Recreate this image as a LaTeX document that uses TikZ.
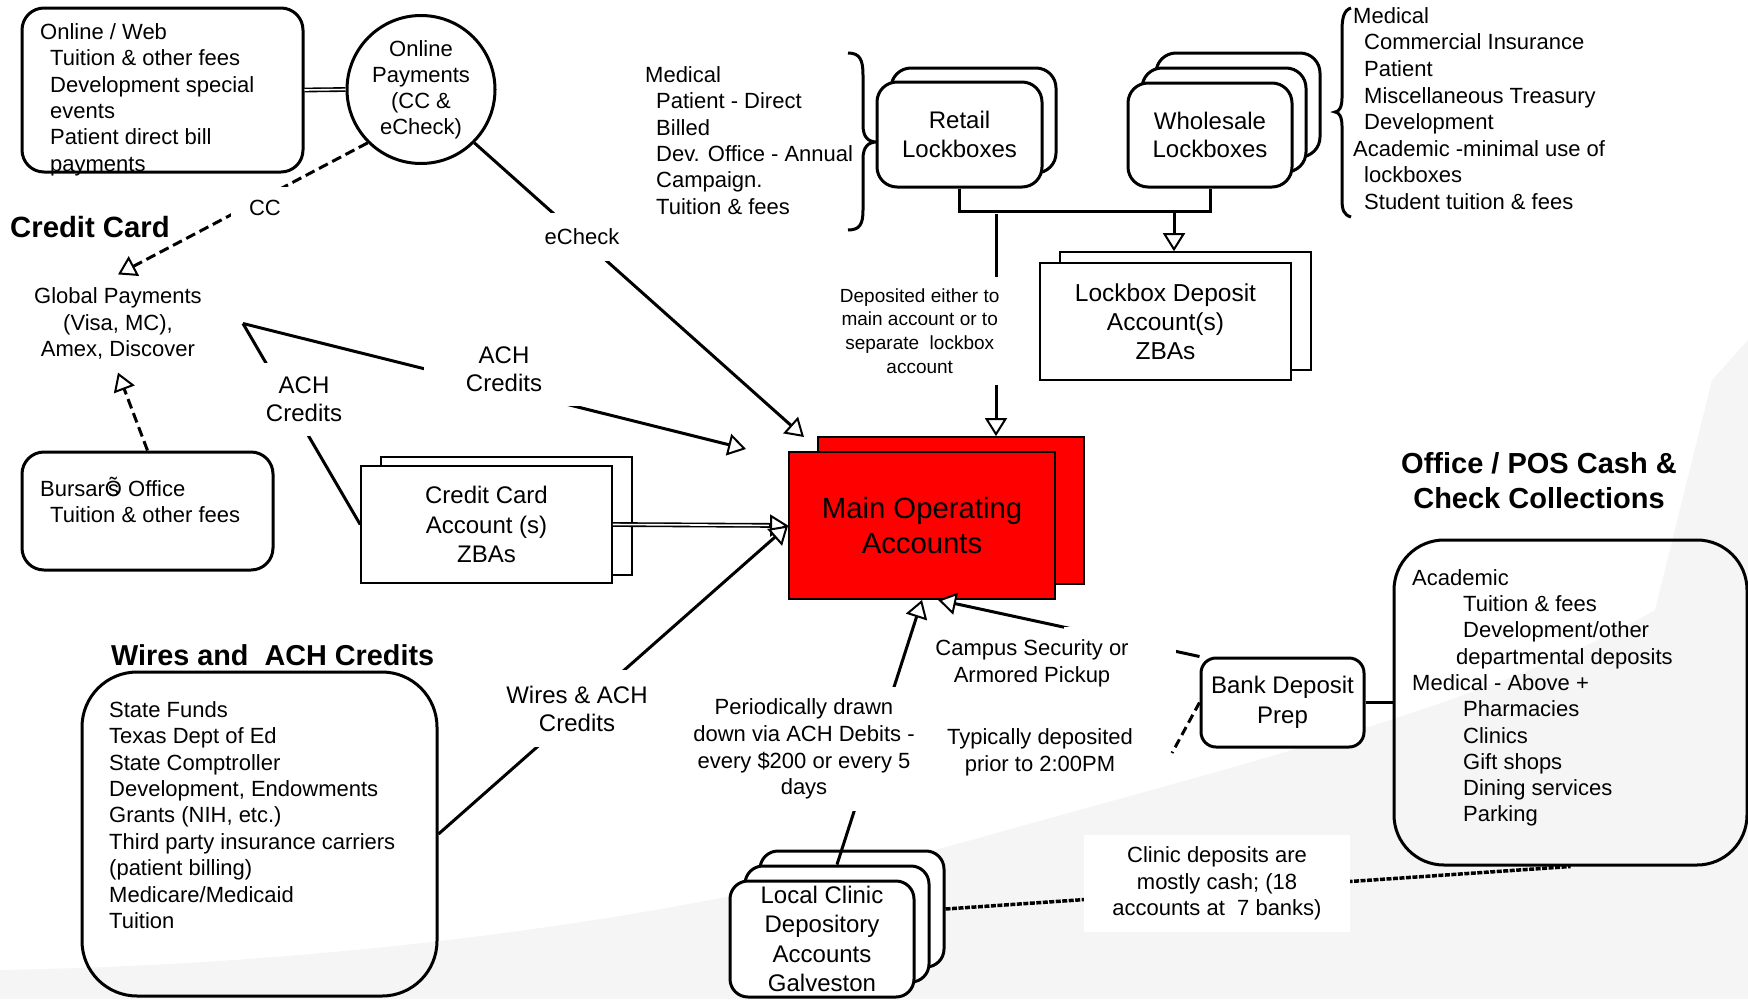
\documentclass[tikz,border=0pt]{standalone}
\usepackage{fontspec}
\setmainfont{Liberation Sans}
\usetikzlibrary{arrows.meta,calc}
\definecolor{acctred}{HTML}{FF0000}
\definecolor{swoosh}{HTML}{F5F5F5}
\newcommand\fList{\fontsize{22}{26.4}\selectfont}
\newcommand\fBox{\fontsize{24}{29.5}\selectfont}
\newcommand\fNote{\fontsize{19}{23.6}\selectfont}
\newcommand\fMain{\fontsize{29.3}{35}\selectfont}
\newcommand\topln{\rule{0pt}{0.9em}}
\newcommand\ind[1]{\hspace*{#1pt}}

\begin{document}
\begin{tikzpicture}[x=1pt,y=-1pt,
  rbox/.style={draw, line width=3pt, rounded corners=#1, inner sep=0pt, align=center},
  rbox/.default=20pt,
  sbox/.style={draw, line width=1.6pt, fill=white, inner sep=0pt, font=\fBox, align=center},
  flow/.style={line width=3pt},
  head/.style={-{Triangle[fill=white, length=18pt, width=22pt, line width=2pt]}},
  dashflow/.style={flow, dash pattern=on 10pt off 5pt},
  dotflow/.style={line width=3.5pt, dash pattern=on 5pt off 1.5pt},
  twin/.style={line width=1.6pt, double, double distance=1.6pt},
  lbl/.style={fill=white, align=center, inner xsep=3pt, inner ysep=14pt},
  list/.style={anchor=north west, inner sep=0pt, align=left, font=\fList},
]
\useasboundingbox (0,0) rectangle (1748,999);

% soft background swoosh
\fill[swoosh] (0,999) -- (0,970) .. controls (350,964) and (700,918) .. (1000,832)
  .. controls (1250,762) and (1500,700) .. (1655,610) -- (1712,380) -- (1748,340)
  -- (1748,999) -- cycle;

% ---------- boxes ----------
\node[rbox=22pt, minimum width=281pt, minimum height=164pt] (web) at (162.5,90) {};
\node[list] (webtxt) at (40,19.2) {\topln Online / Web\\\ind{10}Tuition \& other fees\\\ind{10}Development special\\\ind{10}events\\\ind{10}Patient direct bill\\\ind{10}payments};

\node[circle, draw, line width=3pt, fill=white, minimum size=148pt, inner sep=0pt,
      align=center, font=\fontsize{22}{26}\selectfont] (pay) at (421,89.5)
      {Online\\Payments\\(CC \&\\eCheck)};

\node[anchor=base west, inner sep=0pt, font=\bfseries\fontsize{29.3}{35}\selectfont] (cctitle) at (10,237) {Credit Card};

\node[align=center, font=\fontsize{22}{26.5}\selectfont, inner xsep=41pt, inner ysep=13pt] (gp) at (118,323.5)
      {Global Payments\\(Visa, MC),\\Amex, Discover};

\node[rbox=22pt, minimum width=251pt, minimum height=118pt] (bursar) at (147.5,511) {};
\node[list] (bursartxt) at (40,476.2) {\topln Bursar{\ooalign{Õ\cr\hfil s\hfil}} Office\\\ind{10}Tuition \& other fees};

% credit card accounts
\node[sbox, minimum width=251pt, minimum height=118pt] (ccback) at (506.5,516) {};
\node[sbox, minimum width=251pt, minimum height=117pt] (ccfront) at (486.5,524.5) {Credit Card\\Account (s)\\ZBAs};

% main operating accounts
\node[draw, line width=1.8pt, fill=acctred, minimum width=266pt, minimum height=147pt] (mainback) at (951,510.5) {};
\node[draw, line width=1.8pt, fill=acctred, minimum width=266pt, minimum height=147pt,
      align=center, font=\fMain] (mainfront) at (922,525.5) {Main Operating\\Accounts};

% lockboxes
\node[rbox, fill=white, minimum width=165pt, minimum height=105pt] (retailback) at (973.5,120.5) {};
\node[rbox, fill=white, minimum width=165pt, minimum height=105pt, font=\fBox] (retail) at (959.5,134.5) {Retail\\Lockboxes};

\node[rbox, fill=white, minimum width=164pt, minimum height=104pt] (wholeback) at (1238,105) {};
\node[rbox, fill=white, minimum width=164pt, minimum height=104pt] (wholemid) at (1224,120) {};
\node[rbox, fill=white, minimum width=164pt, minimum height=104pt, font=\fontsize{24}{28}\selectfont] (whole) at (1210,135) {Wholesale\\Lockboxes};

\node[sbox, minimum width=251pt, minimum height=118pt] (lbback) at (1185.5,311) {};
\node[sbox, minimum width=251pt, minimum height=117pt, font=\fontsize{24.5}{29}\selectfont] (lbfront) at (1165.5,321.5) {Lockbox Deposit\\Account(s)\\ZBAs};

% lockbox source lists and braces
\node[list] (retaillist) at (645,62.2) {\topln Medical\\\ind{11}Patient - Direct\\\ind{11}Billed\\\ind{11}Dev. Office - Annual\\\ind{11}Campaign.\\\ind{11}Tuition \& fees};
\draw[line width=3pt] (848,53) .. controls (860,53) and (863,60) .. (863,75) -- (863,125)
  .. controls (863,137) and (868,142) .. (877,142) .. controls (868,142) and (863,147) .. (863,159)
  -- (863,210) .. controls (863,224) and (860,230) .. (848,230);

\node[list, font=\fontsize{22}{26.6}\selectfont] (wholelist) at (1353,3.2) {\topln Medical\\\ind{11}Commercial Insurance\\\ind{11}Patient\\\ind{11}Miscellaneous Treasury\\\ind{11}Development\\Academic -minimal use of\\\ind{11}lockboxes\\\ind{11}Student tuition \& fees};
\draw[line width=3pt] (1351,8) .. controls (1344,10) and (1342,18) .. (1342,30) -- (1342,98)
  .. controls (1342,107) and (1339,112) .. (1335,112) .. controls (1339,112) and (1342,117) .. (1342,126)
  -- (1342,200) .. controls (1342,210) and (1344,215) .. (1351,217);

% office / POS collections
\node[anchor=north, inner sep=0pt, align=center, font=\bfseries\fontsize{29}{35.5}\selectfont] (postitle) at (1539,447)
      {\topln Office / POS Cash \&\\Check Collections};
\node[rbox=50pt, minimum width=353pt, minimum height=325pt] (office) at (1570.5,702.5) {};
\node[list, font=\fontsize{22}{26.3}\selectfont] (officelist) at (1412,565.2) {\topln Academic\\\ind{51}Tuition \& fees\\\ind{51}Development/other\\\ind{44}departmental deposits\\Medical - Above +\\\ind{51}Pharmacies\\\ind{51}Clinics\\\ind{51}Gift shops\\\ind{51}Dining services\\\ind{51}Parking};

\node[rbox=15pt, fill=white, minimum width=163pt, minimum height=89pt, font=\fontsize{24}{30}\selectfont] (bank) at (1282.5,702.5) {Bank Deposit\\Prep};

% wires and ACH credits
\node[anchor=base west, inner sep=0pt, font=\bfseries\fontsize{28.8}{35}\selectfont] (wirestitle) at (111,665) {Wires and\ \ ACH Credits};
\node[rbox=55pt, minimum width=355pt, minimum height=324pt] (wires) at (259.5,834) {};
\node[list] (wireslist) at (109,697.2) {\topln State Funds\\Texas Dept of Ed\\State Comptroller\\Development, Endowments\\Grants (NIH, etc.)\\Third party insurance carriers\\(patient billing)\\Medicare/Medicaid\\Tuition};

% local clinic accounts
\node[rbox=18pt, fill=white, minimum width=184pt, minimum height=116pt] (lcback) at (852,909) {};
\node[rbox=18pt, fill=white, minimum width=184pt, minimum height=116pt] (lcmid) at (837,924) {};
\node[rbox=18pt, fill=white, minimum width=184pt, minimum height=116pt, font=\fontsize{24}{29.3}\selectfont] (lcfront) at (822,939)
      {Local Clinic\\Depository\\Accounts\\Galveston};

% ---------- connectors ----------
\draw[twin] (web.east) -- (pay.west);
\draw[dashflow, head] (pay.south west) -- (gp.north);
\draw[dashflow, head] (bursar.north) -- (gp.south);

\coordinate (echktip) at (804,437);
\draw[flow, head] (pay.south east) -- (echktip);

\coordinate (achtip) at (746,449);
\draw[flow, head] (gp.east) -- (achtip);
\draw[flow] (gp.east) -- (ccfront.west);

\draw[twin, shorten >=16pt] (ccfront.east) -- (mainfront.west);
\draw[flow, head] ($(mainfront.west)+(-19,0)$) -- (mainfront.west);
\draw[flow, head] (wires.east) -- (mainfront.west);

\draw[flow] (retail.south) -- ++(0,23) -| (whole.south);
\coordinate (lbbus) at (1174,210);
\draw[flow, head] (lbbus) -- (lbbus |- lbback.north);
\coordinate (dep) at (996,214);
\draw[flow, head] (dep) -- (dep |- mainback.north);

\draw[flow, head] (lcmid.north) -- (mainfront.south);
\draw[flow, head] (bank.north west) -- ($(mainfront.south)+(16,0)$);
\coordinate (typ) at (1172,753);
\draw[flow, dash pattern=on 9pt off 5pt] (bank.west) -- (typ);
\draw[flow] (bank.east) -- (office.west);
\draw[dotflow] (lcback.east) -- (office.south);

% ---------- labels ----------
\node[lbl, font=\fList, inner xsep=18pt, inner ysep=13pt] (cclbl) at (265,208) {CC};
\node[lbl, font=\fList, inner ysep=16pt] (echklbl) at (582,237) {eCheck};
\node[lbl, font=\fontsize{24}{28}\selectfont] (achone) at (304,399.5) {ACH\\Credits};
\node[lbl, font=\fontsize{24}{28}\selectfont, inner xsep=42pt] (achtwo) at (504,369) {ACH\\Credits};
\node[lbl, font=\fontsize{24}{28}\selectfont, inner ysep=16pt] (wireslbl) at (577,708.5) {Wires \& ACH\\Credits};
\node[lbl, font=\fNote, inner xsep=4pt, inner ysep=12pt] (deplbl) at (919.7,331)
      {Deposited either to\\main account or to\\separate\ \ lockbox\\account};
\node[lbl, font=\fontsize{22}{26.6}\selectfont, inner ysep=12pt] (perlbl) at (804,749)
      {Periodically drawn\\down via ACH Debits -\\every \$200 or every 5\\days};
\fill[white] (1064,627) rectangle (1176,702);
\node[align=center, font=\fontsize{22}{27}\selectfont] (camplbl) at (1032,663.5) {Campus Security or\\Armored Pickup};
\node[align=center, font=\fontsize{22}{27}\selectfont] (typlbl) at (1040,752.5) {Typically deposited\\prior to 2:00PM};
\node[fill=white, align=center, minimum width=266pt, minimum height=97pt, font=\fontsize{22}{26.5}\selectfont] (clinicnote) at (1217,883.5)
      {Clinic deposits are\\mostly cash; (18\\accounts at\ \ 7 banks)};
\end{tikzpicture}
\end{document}
